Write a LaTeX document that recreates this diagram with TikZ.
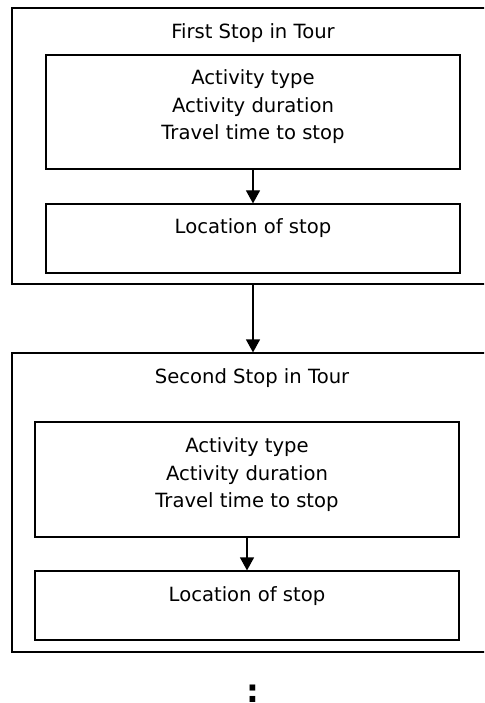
\documentclass[tikz,border=0pt]{standalone}
\usepackage{fontspec}
\setmainfont{DejaVu Sans}
\usetikzlibrary{arrows.meta}
\begin{document}
\begin{tikzpicture}[x=1pt,y=-1pt,
  box/.style={draw=black, line width=1.2pt, rectangle, inner sep=0pt},
  txt/.style={font=\fontsize{19.6}{27.5}\selectfont, align=center, inner sep=0pt},
  arr/.style={draw=black, line width=1.2pt, -{Triangle[width=14pt,length=13pt]}}]
\useasboundingbox (0,0) rectangle (484,703);
\clip (0,0) rectangle (484,703);
% outer boxes
\node[box, minimum width=488pt, minimum height=276pt] (outer1) at (256,146) {};
\node[box, minimum width=488pt, minimum height=299pt] (outer2) at (256,502.5) {};
% inner boxes
\node[box, minimum width=414pt, minimum height=114pt] (in1) at (253,112) {};
\node[box, minimum width=414pt, minimum height=69pt] (in2) at (253,238.5) {};
\node[box, minimum width=424pt, minimum height=115pt] (in3) at (247,479.5) {};
\node[box, minimum width=424pt, minimum height=69pt] (in4) at (247,605.5) {};
% texts
\node[txt] (t1) at (253,33.5) {First Stop in Tour};
\node[txt] (l1) at (253,107) {Activity type\\Activity duration\\Travel time to stop};
\node[txt] (loc1) at (253,228.5) {Location of stop};
\node[txt] (t2) at (252,378.5) {Second Stop in Tour};
\node[txt] (l2) at (247,475) {Activity type\\Activity duration\\Travel time to stop};
\node[txt] (loc2) at (247,596.5) {Location of stop};
\node[font=\fontsize{32}{32}\selectfont\bfseries, inner sep=0pt] (dots) at (253,694) {:};
% arrows
\draw[arr] (in1.south) -- (in2.north);
\draw[arr] (in1.south |- outer1.south) -- (in1.south |- outer2.north);
\draw[arr] (in3.south) -- (in4.north);
\end{tikzpicture}
\end{document}
